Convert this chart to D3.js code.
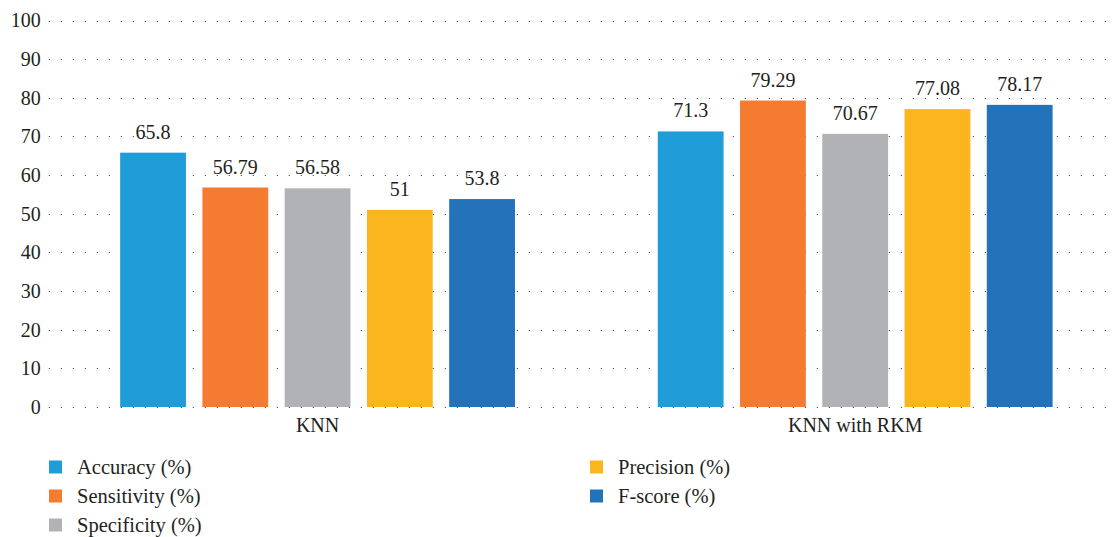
<!DOCTYPE html>
<html>
<head>
<meta charset="utf-8">
<script src="https://cdn.jsdelivr.net/npm/d3@7"></script>
<style>
  body { margin: 0; background: #fff; font-family: 'Liberation Serif'; }
  svg { display: block; font-family: 'Liberation Serif'; }
</style>
</head>
<body>
<svg id="chart" width="1116" height="537" font-family="Liberation Serif"></svg>
<script>
// Classifier comparison: metrics for plain KNN and KNN with RKM
const groups = ["KNN", "KNN with RKM"];
const metrics = ["Accuracy (%)", "Sensitivity (%)", "Specificity (%)", "Precision (%)", "F-score (%)"];
const knnValues = [65.8, 56.79, 56.58, 51, 53.8];
const rkmValues = [71.3, 79.29, 70.67, 77.08, 78.17];
const yTicks = [0, 10, 20, 30, 40, 50, 60, 70, 80, 90, 100];
const colors = ["#1f9dd9", "#f47b30", "#b1b2b6", "#fbb51e", "#2372ba"];

const valuesByGroup = [knnValues, rkmValues];
const rows = groups.flatMap((g, gi) =>
  metrics.map((m, mi) => ({ group: g, metric: m, value: valuesByGroup[gi][mi], mi })));

const svg = d3.select("#chart");
const plotLeft = 48.75, plotRight = 1124, plotTop = 20.5, plotBottom = 407;
const fontSize = 20;
const textColor = "#231f20";

function styleText(sel, size) {
  sel.attr("font-family", "Liberation Serif")
    .attr("font-size", size || fontSize)
    .attr("fill", textColor)
    .style("font-family", "'Liberation Serif'");
}

const x0 = d3.scaleBand().domain(groups).range([plotLeft, plotRight]).paddingInner(0).paddingOuter(0);
const x1 = d3.scaleBand().domain(metrics).range([0, x0.bandwidth()]).paddingInner(0.2).paddingOuter(0.868);
const y = d3.scaleLinear().domain([0, 100]).range([plotBottom, plotTop]);

// dotted gridlines
const grid = svg.append("g");
grid.selectAll("line").data(yTicks.filter(t => t > 0)).join("line")
  .attr("x1", plotLeft).attr("x2", 1112)
  .attr("y1", d => Math.round(y(d)) + 0.5).attr("y2", d => Math.round(y(d)) + 0.5)
  .attr("stroke", "#555").attr("stroke-width", 1.2)
  .attr("stroke-dasharray", "1.2,10.8");

// y axis tick labels
const yAxis = d3.axisLeft(y).tickValues(yTicks).tickSize(0).tickPadding(8);
const ya = svg.append("g").attr("transform", `translate(${plotLeft},0)`).call(yAxis);
ya.select(".domain").remove();
ya.attr("font-family", "Liberation Serif").attr("font-size", fontSize);
ya.selectAll("text").call(styleText);

// bars
svg.append("g").selectAll("rect").data(rows).join("rect")
  .attr("x", d => x0(d.group) + x1(d.metric))
  .attr("width", x1.bandwidth())
  .attr("y", d => y(d.value))
  .attr("height", d => y(0) - y(d.value))
  .attr("fill", d => colors[d.mi]);

// value labels
svg.append("g").selectAll("text").data(rows).join("text")
  .attr("x", d => x0(d.group) + x1(d.metric) + x1.bandwidth() / 2)
  .attr("y", d => y(d.value) - 14)
  .attr("text-anchor", "middle")
  .call(styleText)
  .text(d => d.value);

// baseline dots over bars
svg.append("line")
  .attr("x1", plotLeft).attr("x2", 1112)
  .attr("y1", Math.round(y(0)) + 0.5).attr("y2", Math.round(y(0)) + 0.5)
  .attr("stroke", "#555").attr("stroke-width", 1.2)
  .attr("stroke-dasharray", "1.2,10.8");

// category axis labels
const xAxis = d3.axisBottom(x0).tickSize(0).tickPadding(11);
const xa = svg.append("g").attr("transform", `translate(0,${plotBottom})`).call(xAxis);
xa.select(".domain").remove();
xa.attr("font-family", "Liberation Serif").attr("font-size", fontSize);
xa.selectAll("text").call(styleText);

// legend
const legendPos = [[49, 467], [49, 496], [49, 525], [590, 467], [590, 496]];
const lg = svg.append("g").selectAll("g").data(metrics).join("g")
  .attr("transform", (d, i) => `translate(${legendPos[i][0]},${legendPos[i][1]})`);
lg.append("rect").attr("x", 0).attr("y", -6.5).attr("width", 13).attr("height", 13)
  .attr("fill", (d, i) => colors[i]);
lg.append("text").attr("x", 28).attr("y", 0).attr("dy", "0.35em")
  .call(styleText, 20.5).text(d => d);
</script>
</body>
</html>
